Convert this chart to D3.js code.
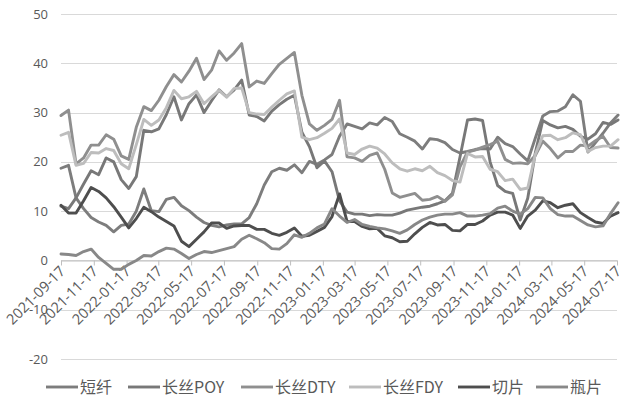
<!DOCTYPE html>
<html><head><meta charset="utf-8">
<script src="https://cdn.jsdelivr.net/npm/d3@7"></script>
<style>body{margin:0;background:#fff}svg{display:block}</style>
</head><body>
<svg id="chart" width="626" height="400"></svg>
<script>
// ---- data ----
const firstDate = "2021-09-17";
const stepDays = 14; // bi-weekly readings
const tickLabels = ["2021-09-17","2021-11-17","2022-01-17","2022-03-17","2022-05-17","2022-07-17","2022-09-17","2022-11-17","2023-01-17","2023-03-17","2023-05-17","2023-07-17","2023-09-17","2023-11-17","2024-01-17","2024-03-17","2024-05-17","2024-07-17"];
const yTicks = [-20,-10,0,10,20,30,40,50];
const seriesNames = ["短纤","长丝POY","长丝DTY","长丝FDY","切片","瓶片"];

const duanxian = [18.7,19.3,12.7,10.5,8.7,7.8,7.1,5.8,7.1,7.4,10,14.5,10.1,9.9,12.4,12.8,11.1,10.1,8.8,7.7,7.1,6.8,7.2,7.4,7.4,8.7,11.5,15.3,18,18.7,18.3,19.4,17.8,20.1,19.5,20.4,21.5,25.2,27.7,27.2,26.7,27.9,27.5,29,28.2,25.7,25,24.2,22.6,24.7,24.5,23.9,22.5,21.8,22.1,22.5,22.7,22.6,25,23.7,23.1,21.6,20.2,24.8,29.3,30.2,30.3,31.2,33.6,32.3,22,23.9,25.8,27.9,29.5];
const poy = [11,10.5,12.7,15.5,18.2,17.4,20.8,20,16.4,14.6,17,26.4,26.1,26.7,29.6,33.2,28.5,31.8,33.6,30,32.4,34.6,33.2,34.6,36.6,29.5,29.2,28.3,30.3,31.6,32.7,33.5,26,23.1,18.8,20.2,18,12.1,9.8,9.4,9.4,9.1,9.3,9.2,9.2,9.6,10.2,10.5,10.8,11,11.5,12.1,13.6,21,28.5,28.7,28.4,20,15.2,14,13.6,8.2,12.6,21.8,28.4,27.5,26.9,27.2,26.6,25.2,24.6,25.7,28,27.6,28.5];
const dty = [29.4,30.5,19.6,20.8,23.4,23.4,25.5,24.6,21.2,20.5,27,31.2,30.4,32.5,35.3,37.7,36.2,38.4,41,36.7,38.6,42.5,40.6,42.1,44,35.2,36.4,35.9,37.9,39.8,41,42.2,33.5,27.7,26.4,27.4,28.6,32.5,21,20.8,20.1,21.3,21.8,18.5,13.7,12.8,13.2,13.6,12.2,12.4,13,12,13.3,19,22,22.4,23,23.5,24.2,20.5,19.7,19.8,19.6,21.3,24.2,22.7,20.8,22.1,22.1,23.4,23.2,24.3,25.2,22.9,22.8];
const fdy = [25.4,26,19.3,19.7,21.9,21.8,22.7,22.3,19.6,18.6,23.5,28.6,27.4,28.5,31,34.5,32.8,33.2,34.3,31.8,33.2,34.5,33.1,34.9,35,30,29.7,29.6,31.1,32.5,33.8,34.4,25,24.5,24.9,25.8,26.8,28.7,21.8,21.5,22.6,23.2,22.8,21.6,19.8,18.6,18.1,18.6,18.2,19.1,17.8,17.2,16.2,15.9,21.7,21,21.1,18.5,18,16.2,16.5,14.4,14.7,21.5,25.3,25.4,24.5,24.9,25.9,25.5,22.1,22.9,23.2,23.2,24.5];
const qiepian = [11.2,9.6,9.6,12.1,14.8,14,12.7,10.9,8.8,6.6,8.5,10.8,9.9,8.8,7.9,7,3.9,2.8,4.3,5.8,7.6,7.6,6.5,7,7.1,7.1,6.3,6.3,5.5,5.1,5.7,6.6,4.9,5.1,5.9,6.7,8.9,13.5,7.9,7.9,6.9,6.4,6.5,5,4.6,3.8,3.9,5.4,6.7,7.7,7.2,7.3,6.1,6,7.3,7.3,8,9.2,9.8,9.8,9.2,6.5,9,10.2,12.1,11.7,10.7,11.2,11.5,9.7,8.7,7.8,7.5,9,9.7];
const pingpian = [1.3,1.2,1,1.8,2.3,0.6,-0.6,-1.8,-1.8,-0.8,0,1,0.9,1.8,2.5,2.3,1.4,0.4,1.2,1.8,1.6,2,2.4,2.8,4.3,5.1,4.4,3.6,2.4,2.3,3.4,5.2,4.7,5.5,6.6,7.4,10.5,9,7.7,8.3,7.3,6.9,6.6,6.4,6,5.5,6.2,7.3,8.2,8.8,9.2,9.4,9.4,9.7,9,9,9.2,9.5,10.6,11,10,9.4,10.5,12.8,12.7,10.5,9.3,9,9,8.1,7.2,6.8,7,9.5,11.7];

// ---- build ----
const seriesValues = [duanxian, poy, dty, fdy, qiepian, pingpian];
const colors = ["#7d7d7d","#787878","#8f8f8f","#bdbdbd","#4e4e4e","#888888"];
const parse = d3.utcParse("%Y-%m-%d");
const t0 = parse(firstDate);
const dates = d3.range(duanxian.length).map(i => d3.utcDay.offset(t0, i * stepDays));

const svg = d3.select("#chart");
const x = d3.scaleUtc().domain([parse(tickLabels[0]), parse(tickLabels[tickLabels.length-1])]).range([61, 617]);
const y = d3.scaleLinear().domain([-20, 50]).range([359, 14]);
const font = "'Open Sans','Noto Sans','Noto Sans CJK SC',sans-serif";

// gridlines
svg.append("g").selectAll("line").data(yTicks).join("line")
  .attr("x1", 61).attr("x2", 617)
  .attr("y1", d => Math.round(y(d)) + 0.5).attr("y2", d => Math.round(y(d)) + 0.5)
  .attr("stroke", "#d9d9d9").attr("stroke-width", 1);

// y labels
svg.append("g").selectAll("text").data(yTicks).join("text")
  .attr("x", 48).attr("y", d => y(d)).attr("dy", "0.35em")
  .attr("text-anchor", "end").attr("fill", "#595959")
  .style("font-family", font).style("font-size", "13px")
  .text(d => d);

// x axis at 0
const xAxis = d3.axisBottom(x)
  .tickValues(tickLabels.map(parse))
  .tickFormat(d3.utcFormat("%Y-%m-%d"))
  .tickSize(5).tickSizeOuter(0);
const gx = svg.append("g").attr("transform", `translate(0,${Math.round(y(0)) + 0.5})`).call(xAxis);
gx.select(".domain").attr("stroke", "#bfbfbf");
gx.selectAll(".tick line").attr("stroke", "#bfbfbf");
gx.selectAll(".tick text")
  .attr("fill", "#595959")
  .style("font-family", font).style("font-size", "14.5px")
  .attr("text-anchor", "end")
  .attr("transform", "translate(1,8) rotate(-45)")
  .attr("x", 0).attr("y", 0).attr("dy", "0.35em");

// lines
const line = d3.line().x((d, i) => x(dates[i])).y(d => y(d));
svg.append("g").selectAll("path").data(seriesValues).join("path")
  .attr("d", d => line(d))
  .attr("fill", "none")
  .attr("stroke", (d, i) => colors[i])
  .attr("stroke-width", 2.9)
  .attr("stroke-linejoin", "round").attr("stroke-linecap", "round");

// legend
const legendX = [46, 128, 241, 349, 458, 536];
const lg = svg.append("g").selectAll("g").data(seriesNames).join("g")
  .attr("transform", (d, i) => `translate(${legendX[i]},387)`);
lg.append("line").attr("x1", 0).attr("x2", 32).attr("y1", 0).attr("y2", 0)
  .attr("stroke", (d, i) => colors[i]).attr("stroke-width", 2.9);
lg.append("text").attr("x", 34).attr("y", 0).attr("dy", "0.35em")
  .attr("fill", "#595959")
  .style("font-family", "'Noto Sans CJK SC','Open Sans',sans-serif").style("font-size", "16px")
  .text(d => d);
</script>
</body></html>
